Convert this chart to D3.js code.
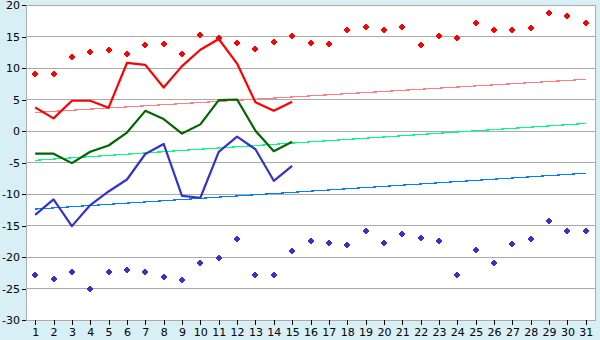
<!DOCTYPE html>
<html>
<head>
<meta charset="utf-8">
<script src="https://cdn.jsdelivr.net/npm/d3@7"></script>
<style>
  body { margin: 0; background: #d9eff6; }
  svg { display: block; }
  .tick text { font-family: 'DejaVu Sans', Verdana, sans-serif; font-size: 11px; fill: #000; }
</style>
</head>
<body>
<svg id="chart" width="600" height="340"></svg>
<script>
const days = d3.range(1, 32);
const yTicks = [-30, -25, -20, -15, -10, -5, 0, 5, 10, 15, 20];

const maxTemps = [9.0, 9.0, 11.8, 12.5, 12.8, 12.2, 13.6, 13.8, 12.2, 15.3, 14.7, 13.9, 13.0, 14.2, 15.1,
  14.0, 13.8, 16.0, 16.5, 16.0, 16.5, 13.6, 15.0, 14.7, 17.1, 16.0, 16.0, 16.3, 18.7, 18.2, 17.1];
const minTemps = [-22.9, -23.5, -22.4, -25.1, -22.4, -22.0, -22.4, -23.2, -23.7, -21.0, -20.2, -17.2, -22.8, -22.8, -19.1,
  -17.5, -17.8, -18.1, -15.9, -17.8, -16.4, -17.0, -17.5, -22.8, -18.9, -21.0, -18.0, -17.2, -14.3, -15.9, -15.9];

const highLine = [3.75, 2.0, 4.8, 4.8, 3.7, 10.8, 10.5, 6.9, 10.3, 12.9, 14.6, 10.7, 4.55, 3.2, 4.65];
const meanLine = [-3.6, -3.6, -5.1, -3.3, -2.3, -0.25, 3.2, 1.9, -0.4, 1.05, 4.9, 5.0, 0.05, -3.2, -1.7];
const lowLine = [-13.3, -10.85, -15.1, -11.75, -9.6, -7.7, -3.65, -2.05, -10.3, -10.6, -3.3, -0.9, -2.9, -7.9, -5.55];

// trend lines: value at day 1 and day 31
const highTrend = [2.95, 8.2];
const meanTrend = [-4.65, 1.2];
const lowTrend = [-12.4, -6.7];

const plot = { left: 26, right: 595, top: 5, bottom: 320 };

const svg = d3.select('#chart');

const x = d3.scalePoint()
  .domain(days)
  .range([plot.left, plot.right])
  .padding(0.5);

const y = d3.scaleLinear()
  .domain([-30, 20])
  .range([plot.bottom, plot.top]);

svg.append('rect')
  .attr('x', plot.left)
  .attr('y', plot.top)
  .attr('width', plot.right - plot.left)
  .attr('height', plot.bottom - plot.top)
  .attr('fill', '#fff');

// grid
svg.append('g')
  .attr('class', 'grid')
  .selectAll('line')
  .data(yTicks)
  .enter()
  .append('line')
  .attr('x1', plot.left)
  .attr('x2', plot.right)
  .attr('y1', d => y(d))
  .attr('y2', d => y(d))
  .attr('stroke', '#aaa')
  .attr('shape-rendering', 'crispEdges');

// plot frame
svg.append('rect')
  .attr('x', plot.left)
  .attr('y', plot.top)
  .attr('width', plot.right - plot.left)
  .attr('height', plot.bottom - plot.top)
  .attr('fill', 'none')
  .attr('stroke', '#aaa')
  .attr('shape-rendering', 'crispEdges');

// axes
const yAxis = svg.append('g')
  .attr('transform', 'translate(' + plot.left + ',0)')
  .call(d3.axisLeft(y).tickValues(yTicks).tickSize(4).tickPadding(2).tickFormat(d => String(d)));
yAxis.select('.domain').remove();
yAxis.selectAll('.tick line').attr('stroke', '#000').attr('shape-rendering', 'crispEdges');
yAxis.selectAll('.tick text').attr('dy', '0.35em');

const xAxis = svg.append('g')
  .attr('transform', 'translate(0,' + plot.bottom + ')')
  .call(d3.axisBottom(x).tickSize(5).tickPadding(3));
xAxis.select('.domain').remove();
xAxis.selectAll('.tick line').attr('stroke', '#000').attr('shape-rendering', 'crispEdges');

// trend lines
const trends = [
  { values: highTrend, color: '#ff8080' },
  { values: meanTrend, color: '#00ff80' },
  { values: lowTrend, color: '#0080ff' },
];
svg.append('g')
  .selectAll('line')
  .data(trends)
  .enter()
  .append('line')
  .attr('x1', x(days[0]))
  .attr('x2', x(days[days.length - 1]))
  .attr('y1', d => y(d.values[0]))
  .attr('y2', d => y(d.values[1]))
  .attr('stroke', d => d.color)
  .attr('stroke-width', 1.2)
  .attr('shape-rendering', 'crispEdges');

// daily lines
const line = d3.line()
  .x((d, i) => x(days[i]))
  .y(d => y(d));

const series = [
  { values: highLine, color: '#ff0000' },
  { values: meanLine, color: '#006600' },
  { values: lowLine, color: '#3333cc' },
];
svg.append('g')
  .selectAll('path')
  .data(series)
  .enter()
  .append('path')
  .attr('d', d => line(d.values))
  .attr('fill', 'none')
  .attr('stroke', d => d.color)
  .attr('stroke-width', 2.2)
  .attr('stroke-linejoin', 'round');

// markers
const marker = 'M-1,-3h2v1h1v1h1v2h-1v1h-1v1h-2v-1h-1v-1h-1v-2h1v-1h1z';
const points = [
  { values: maxTemps, color: '#ff0000' },
  { values: minTemps, color: '#3333cc' },
];
svg.append('g')
  .selectAll('g')
  .data(points)
  .enter()
  .append('g')
  .attr('fill', d => d.color)
  .selectAll('path')
  .data(d => d.values)
  .enter()
  .append('path')
  .attr('d', marker)
  .attr('transform', (d, i) => 'translate(' + Math.round(x(days[i])) + ',' + Math.round(y(d)) + ')');
</script>
</body>
</html>
